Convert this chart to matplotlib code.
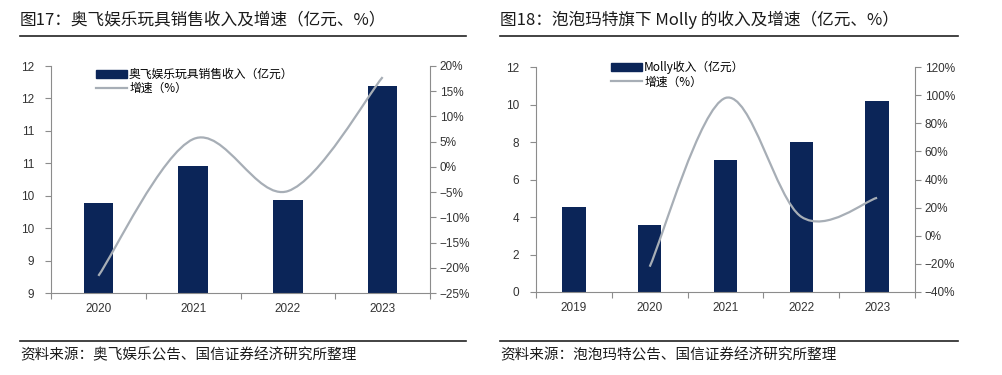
import matplotlib
matplotlib.use("Agg")
import matplotlib.pyplot as plt
from matplotlib.path import Path
from matplotlib.patches import PathPatch
from matplotlib.lines import Line2D
import numpy as np

# Data
years_l = ["2020", "2021", "2022", "2023"]
rev_l = [10.39, 10.96, 10.43, 12.19]
growth_l = [-21.6, 5.5, -4.8, 17.8]
yticks_l = [9, 9.5, 10, 10.5, 11, 11.5, 12, 12.5]
ylabels_l = ["9", "9", "10", "10", "11", "11", "12", "12"]
rticks_l = [-25, -20, -15, -10, -5, 0, 5, 10, 15, 20]

years_r = ["2019", "2020", "2021", "2022", "2023"]
rev_r = [4.56, 3.56, 7.05, 8.0, 10.19]
growth_r = [None, -22.0, 98.0, 13.5, 27.0]
yticks_r = [0, 2, 4, 6, 8, 10, 12]
rticks_r = [-40, -20, 0, 20, 40, 60, 80, 100, 120]

BAR = "#0b2558"
LINE = "#a7aeb6"
AX = "#8c8c8c"
CJK = ["Noto Sans CJK SC", "DejaVu Sans"]
NUM = ["Liberation Sans", "DejaVu Sans"]

W, H = 1003, 375
fig = plt.figure(figsize=(W / 100, H / 100), dpi=100)


def pct(v):
    return (str(v) if v >= 0 else "\u2212" + str(-v)) + "%"


def smooth_path(xs, ys):
    # Catmull-Rom style smoothing like an office "smoothed line"
    pts = np.column_stack([xs, ys]).astype(float)
    verts = [pts[0]]
    codes = [Path.MOVETO]
    n = len(pts)
    for i in range(n - 1):
        p0 = pts[i - 1] if i > 0 else pts[i]
        p1, p2 = pts[i], pts[i + 1]
        p3 = pts[i + 2] if i + 2 < n else pts[i + 1]
        c1 = p1 + (p2 - p0) / 6
        c2 = p2 - (p3 - p1) / 6
        verts += [c1, c2, p2]
        codes += [Path.CURVE4] * 3
    return Path(verts, codes)


def panel(px_left, px_top, px_w, px_h, cats, rev, growth, yt, ylab, ylim,
          rt, rlim, bar_label, legend_x, legend_top):
    ax = fig.add_axes([px_left / W, (H - px_top - px_h) / H, px_w / W, px_h / H])
    x = np.arange(len(cats))
    ax.bar(x, rev, width=0.31, color=BAR, zorder=2)
    ax.set_xlim(-0.5, len(cats) - 0.5)
    ax.set_ylim(*ylim)
    ax.set_yticks(yt)
    ax.set_yticklabels(ylab, family=NUM, fontsize=8.5, color="#333333")
    ax.set_xticks(np.arange(len(cats) + 1) - 0.5)
    ax.set_xticklabels([])
    ax.set_xticks(x, minor=True)
    ax.set_xticklabels(cats, minor=True, family=NUM, fontsize=8.5, color="#333333")
    ax.tick_params(axis="x", which="minor", length=0, pad=7)
    ax.tick_params(axis="x", which="major", length=4, color=AX, direction="out")
    ax.tick_params(axis="y", length=4, color=AX, direction="out", pad=8)
    for s in ["top", "right"]:
        ax.spines[s].set_visible(False)
    for s in ["left", "bottom"]:
        ax.spines[s].set_color(AX)

    ax2 = ax.twinx()
    ax2.set_ylim(*rlim)
    ax2.set_yticks(rt)
    ax2.set_yticklabels([pct(v) for v in rt], family=NUM, fontsize=8.5, color="#333333")
    ax2.tick_params(axis="y", length=4, color=AX, direction="out", pad=3)
    for s in ["top", "left", "bottom"]:
        ax2.spines[s].set_visible(False)
    ax2.spines["right"].set_color(AX)
    gx = [i for i, g in enumerate(growth) if g is not None]
    gy = [g for g in growth if g is not None]
    ax2.add_patch(PathPatch(smooth_path(gx, gy), facecolor="none",
                            edgecolor=LINE, lw=1.6, zorder=3))

    handles = [plt.Rectangle((0, 0), 1, 1, color=BAR),
               Line2D([], [], color=LINE, lw=1.6)]
    ax.legend(handles, [bar_label, "增速（%）"], loc="upper left",
              bbox_to_anchor=((legend_x - px_left) / px_w, 1 - (legend_top - px_top) / px_h),
              frameon=False, prop={"family": CJK, "size": 8.5},
              handlelength=2.6, handleheight=0.7, handletextpad=0.2,
              labelspacing=0.1, borderaxespad=0, borderpad=0)
    return ax


panel(51, 66, 379, 227, years_l, rev_l, growth_l, yticks_l, ylabels_l,
      (9, 12.5), rticks_l, (-25, 20), "奥飞娱乐玩具销售收入（亿元）", 96, 68)
panel(536, 67, 379, 225, years_r, rev_r, growth_r, yticks_r,
      [str(v) for v in yticks_r], (0, 12), rticks_r, (-40, 120),
      "Molly收入（亿元）", 611, 61)

# titles, rules and source notes
fig.text(20 / W, 1 - 20 / H, "图17：奥飞娱乐玩具销售收入及增速（亿元、%）",
         family=CJK, fontsize=12, weight="medium", va="center", color="#1a1a1a")
fig.text(500 / W, 1 - 20 / H, "图18：泡泡玛特旗下 Molly 的收入及增速（亿元、%）",
         family=CJK, fontsize=12, weight="medium", va="center", color="#1a1a1a")
for x0, x1 in [(20, 466), (500, 958)]:
    fig.add_artist(Line2D([x0 / W, x1 / W], [1 - 36 / H] * 2, color="#222222", lw=1.2))
    fig.add_artist(Line2D([x0 / W, x1 / W], [1 - 341 / H] * 2, color="#222222", lw=1.2))
fig.text(20 / W, 1 - 355 / H, "资料来源：奥飞娱乐公告、国信证券经济研究所整理",
         family=CJK, fontsize=10.5, va="center", color="#1a1a1a")
fig.text(500 / W, 1 - 355 / H, "资料来源：泡泡玛特公告、国信证券经济研究所整理",
         family=CJK, fontsize=10.5, va="center", color="#1a1a1a")

fig.savefig("out.png", dpi=100)
